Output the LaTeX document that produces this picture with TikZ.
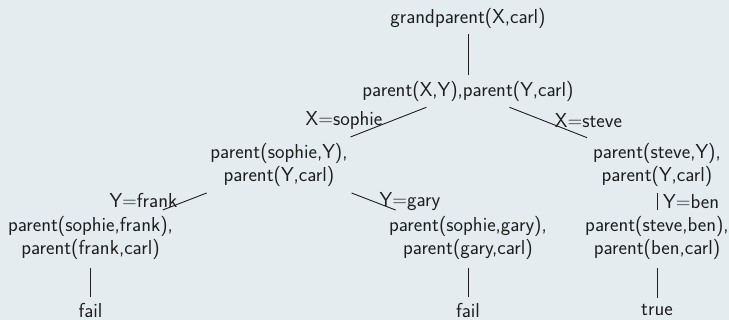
\documentclass[tikz,border=0pt]{standalone}
\definecolor{bg}{HTML}{E5ECEF}
\definecolor{ink}{HTML}{1E1E1E}
\begin{document}
\begin{tikzpicture}[x=1pt,y=1pt,
  every node/.style={font=\sffamily\fontsize{20.2}{23.4}\selectfont, text=ink},
  term/.style={align=center, inner sep=6pt},
  lbl/.style={anchor=base, inner sep=0pt},
  conn/.style={draw=ink, line width=0.9pt}]
\fill[bg] (0,0) rectangle (729,-320);
\useasboundingbox (0,0) rectangle (729,-320);
% goals
\node[term] (root)   at (468,-18)   {grandparent(X,carl)};
\node[term] (mid)    at (468,-91)   {parent(X,Y),parent(Y,carl)};
\node[term] (sophie) at (279,-165)  {parent(sophie,Y),\\parent(Y,carl)};
\node[term] (steve)  at (657,-165)  {parent(steve,Y),\\parent(Y,carl)};
\node[term] (frank)  at (90.5,-238) {parent(sophie,frank),\\parent(frank,carl)};
\node[term] (gary)   at (468,-238)  {parent(sophie,gary),\\parent(gary,carl)};
\node[term] (ben)    at (657,-238)  {parent(steve,ben),\\parent(ben,carl)};
\node[term] (fail1)  at (90.5,-310) {fail};
\node[term] (fail2)  at (468,-310)  {fail};
\node[term] (true)   at (657,-310)  {true};
% labels
\node[lbl] (lsophie) at (344,-126)   {X=sophie};
\node[lbl] (lsteve)  at (588.5,-128) {X=steve};
\node[lbl] (lfrank)  at (143.4,-208) {Y=frank};
\node[lbl] (lgary)   at (410,-207)   {Y=gary};
\node[lbl, anchor=base west] (lben) at (663,-209) {Y=ben};
% connectors
\draw[conn] (root) -- (mid);
\draw[conn] (mid) -- (sophie);
\draw[conn] (mid) -- (steve);
\draw[conn] (sophie) -- (frank);
\draw[conn] (sophie) -- (gary);
\draw[conn] (steve) -- (ben);
\draw[conn, shorten <=2pt] (frank) -- (fail1);
\draw[conn, shorten <=2pt] (gary) -- (fail2);
\draw[conn, shorten <=2pt] (ben) -- (true);
\end{tikzpicture}
\end{document}
